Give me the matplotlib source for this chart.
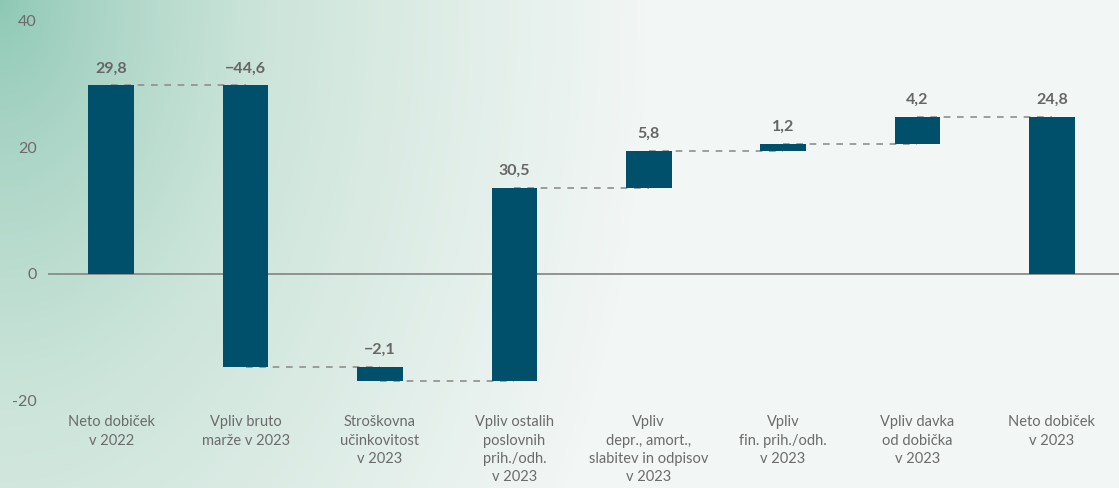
"""Waterfall: neto dobiček 2022 -> 2023."""
import matplotlib
matplotlib.use("Agg")
import matplotlib.pyplot as plt
import numpy as np
from matplotlib.colors import LinearSegmentedColormap

categories = [
    "Neto dobiček\nv 2022",
    "Vpliv bruto\nmarže v 2023",
    "Stroškovna\nučinkovitost\nv 2023",
    "Vpliv ostalih\nposlovnih\nprih./odh.\nv 2023",
    "Vpliv\ndepr., amort.,\nslabitev in odpisov\nv 2023",
    "Vpliv\nfin. prih./odh.\nv 2023",
    "Vpliv davka\nod dobička\nv 2023",
    "Neto dobiček\nv 2023",
]
values = [29.8, -44.6, -2.1, 30.5, 5.8, 1.2, 4.2, 24.8]
is_total = [True, False, False, False, False, False, False, True]
value_labels = ["29,8", "\u221244,6", "\u22122,1", "30,5", "5,8", "1,2", "4,2", "24,8"]
yticks = [-20, 0, 20, 40]

plt.rcParams["font.family"] = ["Lato", "DejaVu Sans"]

bar_color = "#004f6b"
text_color = "#6b6b6b"

fig = plt.figure(figsize=(11.19, 4.88), dpi=100)

# background gradient (teal in the upper left fading to near white)
bg = fig.add_axes([0, 0, 1, 1], zorder=-10)
h, w = 488, 1119
yy, xx = np.mgrid[0:h, 0:w]
d = np.sqrt((xx / 650.0) ** 2 + (yy / 1000.0) ** 2)
t = np.clip(d, 0, 1) ** 0.75
cmap = LinearSegmentedColormap.from_list("bg", ["#8cc7b4", "#cbe4d9", "#f2f6f5"])
bg.imshow(t, cmap=cmap, aspect="auto", vmin=0, vmax=1)
bg.axis("off")

ax = fig.add_axes([0.043, 0.18, 0.957, 0.777])
ax.set_facecolor("none")

x = np.arange(len(values))
bottoms, tops, levels = [], [], []
running = 0.0
for v, tot in zip(values, is_total):
    if tot:
        start, end = 0.0, v
        running = v
    else:
        start, end = running, running + v
        running = end
    bottoms.append(min(start, end))
    tops.append(max(start, end))
    levels.append(end)

heights = np.array(tops) - np.array(bottoms)
ax.bar(x, heights, bottom=bottoms, width=0.34, color=bar_color, zorder=3)

# connectors
for i in range(len(values) - 1):
    ax.plot([x[i], x[i + 1]], [levels[i], levels[i]], color="#8f8f8f",
            lw=1.2, dashes=(4, 4), zorder=2)

for xi, top, lab in zip(x, tops, value_labels):
    ax.text(xi, top + 1.6, lab, ha="center", va="bottom", fontsize=11.5,
            fontweight="bold", color="#666666")

ax.axhline(0, color="#8a8a8a", lw=1.3, zorder=1)

ax.set_xlim(-0.47, 7.5)
ax.set_ylim(-20, 40)
ax.set_yticks(yticks)
ax.set_yticklabels([str(v) for v in yticks])
ax.set_xticks(x)
ax.set_xticklabels(categories, fontsize=10.5, color=text_color, linespacing=1.38)
ax.tick_params(axis="y", length=0, pad=8, labelsize=11.5, labelcolor=text_color)
ax.tick_params(axis="x", length=0, pad=11)
for s in ax.spines.values():
    s.set_visible(False)

fig.savefig("out.png", dpi=100)
